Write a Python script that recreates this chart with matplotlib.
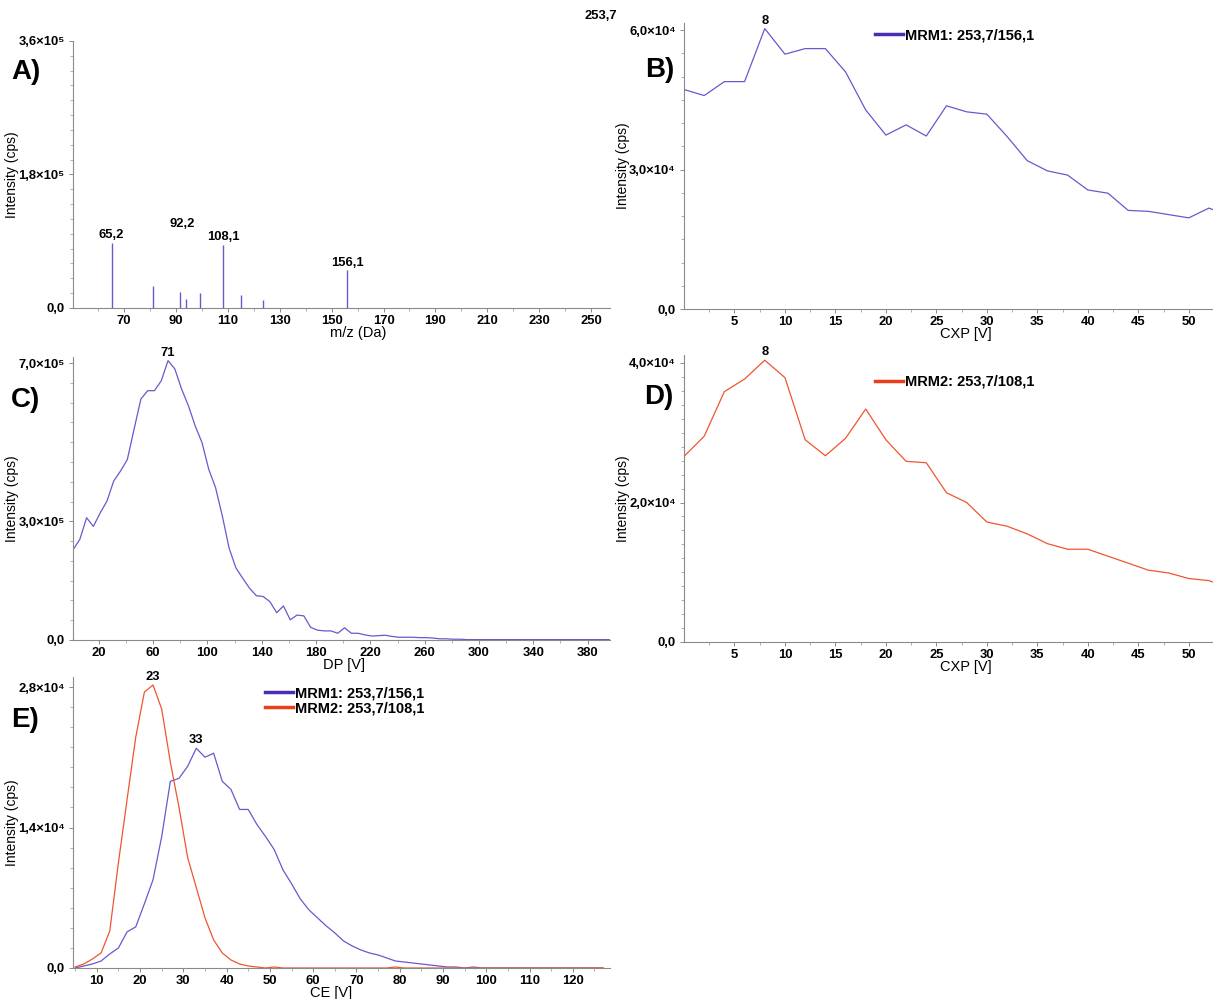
import matplotlib
matplotlib.use('Agg')
import matplotlib.pyplot as plt
from matplotlib.ticker import FixedLocator, MultipleLocator
import numpy as np

plt.rcParams['font.family'] = ['Liberation Sans', 'DejaVu Sans']

W, H = 1213, 999
purple = '#6a58cc'
purple_dark = '#4a2db0'
red = '#f0552e'
red_dark = '#e8401c'

# A) product ion spectrum of m/z 253,7
ms_mz = [65.2, 81.0, 91.6, 93.8, 99.3, 108.1, 115.2, 123.5, 156.1]
ms_int = [0.88e5, 0.30e5, 0.21e5, 0.115e5, 0.20e5, 0.85e5, 0.17e5, 0.106e5, 0.51e5]
ms_lab = ['65,2', '92,2', '108,1', '156,1', '253,7']
ms_lab_x = [65.2, 92.2, 108.1, 156.1, 253.7]
ms_lab_y = [0.90e5, 1.05e5, 0.87e5, 0.53e5, 3.85e5]

# B) CXP ramp, MRM1 ; D) CXP ramp, MRM2
cxp = list(range(0, 56, 2))
cxp_mrm1 = [4.72, 4.59, 4.89, 4.89, 6.03, 5.48, 5.60, 5.60, 5.10, 4.28, 3.74, 3.96, 3.72, 4.37,
            4.24, 4.19, 3.71, 3.19, 2.97, 2.88, 2.56, 2.49, 2.12, 2.10, 2.03, 1.96, 2.17, 2.00]
cxp_mrm2 = [2.66, 2.95, 3.59, 3.77, 4.04, 3.79, 2.90, 2.67, 2.92, 3.34, 2.90, 2.59, 2.57, 2.14,
            2.00, 1.72, 1.66, 1.55, 1.41, 1.33, 1.33, 1.23, 1.13, 1.03, 0.99, 0.91, 0.88, 0.77]

# C) DP ramp
dp = list(range(1, 397, 5))
dp_int = [2.28, 2.54, 3.09, 2.87, 3.21, 3.51, 4.02, 4.27, 4.56, 5.33,
          6.09, 6.30, 6.30, 6.55, 7.06, 6.85, 6.34, 5.92, 5.41, 4.99,
          4.31, 3.85, 3.13, 2.32, 1.82, 1.56, 1.31, 1.12, 1.10, 0.97,
          0.69, 0.86, 0.51, 0.63, 0.61, 0.32, 0.25, 0.23, 0.23, 0.17,
          0.31, 0.17, 0.17, 0.13, 0.10, 0.11, 0.12, 0.09, 0.07, 0.07,
          0.07, 0.06, 0.06, 0.05, 0.03, 0.03, 0.02, 0.02, 0.01, 0.01,
          0.01, 0.01, 0.01, 0.01, 0.01, 0.01, 0.01, 0.01, 0.01, 0.01,
          0.01, 0.01, 0.01, 0.01, 0.01, 0.01, 0.01, 0.01, 0.01, 0.01]

# E) CE ramp, both transitions
ce = list(range(5, 129, 2))
ce_mrm1 = [0.00, 0.02, 0.04, 0.07, 0.14, 0.20, 0.36, 0.41, 0.64, 0.88,
           1.31, 1.86, 1.89, 2.01, 2.19, 2.10, 2.14, 1.86, 1.78, 1.58,
           1.58, 1.43, 1.31, 1.18, 0.98, 0.84, 0.69, 0.58, 0.50, 0.42,
           0.35, 0.27, 0.22, 0.18, 0.15, 0.13, 0.10, 0.07, 0.06, 0.05,
           0.04, 0.03, 0.02, 0.01, 0.01, 0.00, 0.01, 0.00, 0.00, 0.00,
           0.00, 0.00, 0.00, 0.00, 0.00, 0.00, 0.00, 0.00, 0.00, 0.00,
           0.00, 0.00]
ce_mrm2 = [0.01, 0.04, 0.09, 0.15, 0.37, 1.05, 1.68, 2.30, 2.75, 2.82,
           2.58, 2.05, 1.60, 1.10, 0.80, 0.50, 0.28, 0.15, 0.08, 0.04,
           0.02, 0.01, 0.00, 0.01, 0.00, 0.00, 0.00, 0.00, 0.00, 0.00,
           0.00, 0.00, 0.00, 0.00, 0.00, 0.00, 0.00, 0.01, 0.00, 0.00,
           0.00, 0.00, 0.00, 0.00, 0.00, 0.00, 0.00, 0.00, 0.00, 0.00,
           0.00, 0.00, 0.00, 0.00, 0.00, 0.00, 0.00, 0.00, 0.00, 0.00,
           0.00, 0.00]

fig = plt.figure(figsize=(W / 100, H / 100), dpi=100)
TICK_FS = 9.4


def fpt(x, y):
    # figure pixel (from top-left) -> figure fraction
    return (x / W, 1 - y / H)


def make_axes(l, r, y0, yref, vref, vtop, xlim, yticks, ylabels, yminor, xticks, xlabel, xlab_x):
    ppv = (y0 - yref) / vref
    top = y0 - vtop * ppv
    ax = fig.add_axes([l / W, 1 - y0 / H, (r - l) / W, (y0 - top) / H])
    ax.set_xlim(*xlim)
    ax.set_ylim(0, vtop)
    for s in ['top', 'right']:
        ax.spines[s].set_visible(False)
    for s in ['left', 'bottom']:
        ax.spines[s].set_color('#8a8a8a')
        ax.spines[s].set_linewidth(0.8)
    ax.yaxis.set_major_locator(FixedLocator(yticks))
    ax.set_yticklabels(ylabels, fontsize=TICK_FS, fontweight='bold')
    ax.yaxis.set_minor_locator(MultipleLocator(yminor))
    ax.set_xticks(xticks)
    ax.set_xticklabels([str(t) for t in xticks], fontsize=TICK_FS, fontweight='bold')
    step = xticks[1] - xticks[0]
    ax.xaxis.set_minor_locator(FixedLocator([t - step / 2 for t in xticks] + [xticks[-1] + step / 2]))
    ax.tick_params(axis='y', which='major', length=3, width=0.7, color='#8a8a8a', pad=3)
    ax.tick_params(axis='x', which='major', length=3, width=0.7, color='#8a8a8a', pad=2)
    ax.tick_params(axis='both', which='minor', length=2, width=0.7, color='#b0b0b0')
    ax.set_ylabel('Intensity (cps)', fontsize=10)
    ax.yaxis.set_label_coords(-54 / (r - l), 0.5)
    ax.set_xlabel(xlabel, fontsize=10.5)
    ax.xaxis.set_label_coords((xlab_x - l) / (r - l), -18 / (y0 - top))
    return ax


def panel_letter(txt, x, y):
    fig.text(x / W, 1 - y / H, txt, fontsize=20, fontweight='bold', va='center', ha='left')


def peak_label(ax, x, y, txt):
    ax.annotate(txt, (x, y), xytext=(0, 1.5), textcoords='offset points', ha='center', va='bottom',
                fontsize=TICK_FS, fontweight='bold', annotation_clip=False)


def add_legend(ax, colors, labels, x, y, loc):
    handles = [plt.Line2D([], [], color=c, lw=2.5) for c in colors]
    ax.legend(handles=handles, labels=labels, loc=loc, bbox_to_anchor=fpt(x, y),
              bbox_transform=fig.transFigure, frameon=False, handlelength=1.9,
              handletextpad=0.15, borderaxespad=0, borderpad=0, labelspacing=0.1,
              prop={'size': 10.5, 'weight': 'bold'})


# ---- A
axA = make_axes(73, 610, 308, 41, 3.6e5, 3.6e5, (50.3, 257.3),
                [0, 1.8e5, 3.6e5], ['0,0', '1,8×10⁵', '3,6×10⁵'], 0.2e5,
                list(range(70, 251, 20)), 'm/z (Da)', 358)
axA.vlines(ms_mz, 0, ms_int, color=purple, lw=1.0)
for lx, ly, t in zip(ms_lab_x, ms_lab_y, ms_lab):
    axA.text(lx, ly, t, ha='center', va='bottom', fontsize=TICK_FS, fontweight='bold', clip_on=False)
panel_letter('A)', 11, 72)

# ---- B
axB = make_axes(684, 1213, 309, 30, 6.0e4, 6.15e4, (0, 52.4),
                [0, 3.0e4, 6.0e4], ['0,0', '3,0×10⁴', '6,0×10⁴'], 0.5e4,
                list(range(5, 51, 5)), 'CXP [V]', 966)
axB.plot(cxp, [v * 1e4 for v in cxp_mrm1], color=purple, lw=0.9)
i = int(np.argmax(cxp_mrm1))
peak_label(axB, cxp[i], cxp_mrm1[i] * 1e4, str(cxp[i]))
add_legend(axB, [purple_dark], ['MRM1: 253,7/156,1'], 875, 35, 'center left')
panel_letter('B)', 645, 70)

# ---- C
axC = make_axes(73, 610, 640, 363, 7.0e5, 7.15e5, (1, 396.5),
                [0, 3.0e5, 7.0e5], ['0,0', '3,0×10⁵', '7,0×10⁵'], 0.5e5,
                list(range(20, 381, 40)), 'DP [V]', 344)
axC.plot(dp, [v * 1e5 for v in dp_int], color=purple, lw=0.9)
i = int(np.argmax(dp_int))
peak_label(axC, dp[i], dp_int[i] * 1e5, str(dp[i]))
panel_letter('C)', 11, 400)

# ---- D
axD = make_axes(684, 1213, 642, 363, 4.0e4, 4.12e4, (0, 52.4),
                [0, 2.0e4, 4.0e4], ['0,0', '2,0×10⁴', '4,0×10⁴'], 0.2e4,
                list(range(5, 51, 5)), 'CXP [V]', 966)
axD.plot(cxp, [v * 1e4 for v in cxp_mrm2], color=red, lw=0.9)
i = int(np.argmax(cxp_mrm2))
peak_label(axD, cxp[i], cxp_mrm2[i] * 1e4, str(cxp[i]))
add_legend(axD, [red_dark], ['MRM2: 253,7/108,1'], 875, 382, 'center left')
panel_letter('D)', 644, 397)

# ---- E
axE = make_axes(73, 610, 968, 687, 2.8e4, 2.9e4, (4.5, 128.6),
                [0, 1.4e4, 2.8e4], ['0,0', '1,4×10⁴', '2,8×10⁴'], 0.2e4,
                list(range(10, 121, 10)), 'CE [V]', 331)
axE.plot(ce, [v * 1e4 for v in ce_mrm1], color=purple, lw=0.9)
axE.plot(ce, [v * 1e4 for v in ce_mrm2], color=red, lw=0.9)
for ser in (ce_mrm2, ce_mrm1):
    i = int(np.argmax(ser))
    peak_label(axE, ce[i], ser[i] * 1e4, str(ce[i]))
add_legend(axE, [purple_dark, red_dark], ['MRM1: 253,7/156,1', 'MRM2: 253,7/108,1'], 265, 686, 'upper left')
panel_letter('E)', 11, 720)

fig.savefig('out.png', dpi=100)
